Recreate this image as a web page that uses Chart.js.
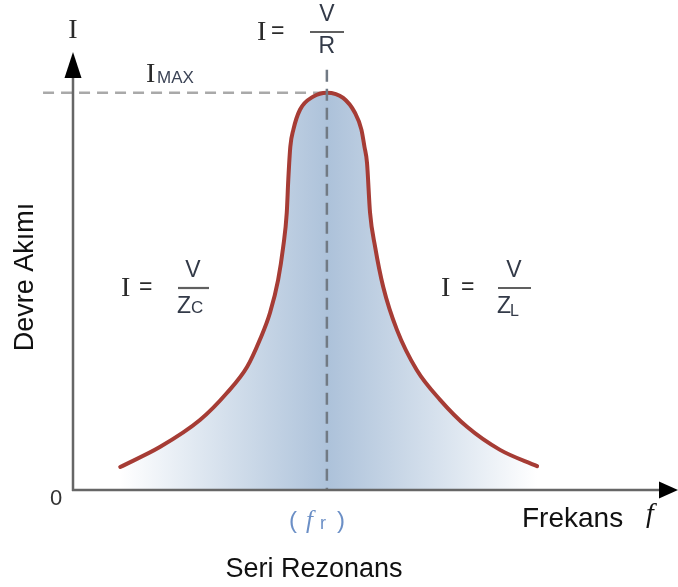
<!DOCTYPE html>
<html>
<head>
<meta charset="utf-8">
<script src="https://cdn.jsdelivr.net/npm/chart.js@4/dist/chart.umd.min.js"></script>
<style>
  html, body { margin: 0; padding: 0; background: #ffffff; }
  #wrap { width: 678px; height: 587px; position: relative; }
</style>
</head>
<body>
<div id="wrap"><canvas id="rezonans"></canvas></div>
<script>
// Frequency (resonance at 50) and circuit current (I_MAX = 100)
const frekans = [9.3, 17.1, 25.0, 30.3, 34.3, 36.8, 38.8, 40.4, 41.4, 42.1, 42.4, 42.8, 43.4, 44.7, 47.3, 50.0,
                 53.2, 55.5, 56.8, 57.4, 57.9, 58.5, 59.5, 61.1, 63.8, 67.7, 72.3, 77.6, 84.1, 91.4];
const akim    = [5.8, 10.8, 17.6, 24.4, 31.0, 37.8, 44.6, 52.9, 61.2, 69.8, 78.1, 86.4, 90.7, 95.7, 99.0, 100.0,
                 98.7, 95.0, 90.7, 86.4, 82.4, 69.8, 61.2, 51.1, 40.3, 30.2, 22.7, 15.9, 10.1, 6.0];
const FR = 50;      // resonant frequency f_r
const IMAX = 100;   // current at resonance
const X_MAX = 116;
const Y_MAX = 112;

const SANS = '"Liberation Sans", Arial, sans-serif';
const SERIF = '"Liberation Serif", "Times New Roman", serif';

function fillGradient(context) {
  const chart = context.chart;
  const { ctx, chartArea, scales } = chart;
  if (!chartArea || !scales.x) return 'rgba(170,192,218,0.8)';
  const x0 = scales.x.getPixelForValue(frekans[0]);
  const x1 = scales.x.getPixelForValue(frekans[frekans.length - 1]);
  const g = ctx.createLinearGradient(x0, 0, x1, 0);
  g.addColorStop(0, '#ffffff');
  g.addColorStop(0.2, '#dde6f0');
  g.addColorStop(0.5, '#adc2da');
  g.addColorStop(0.8, '#dde6f0');
  g.addColorStop(1, '#ffffff');
  return g;
}

function formula(ctx, iLeft, eqLeft, cx, barL, barR, barY, num, den, sub, subFont, subDx, subDy) {
  ctx.fillStyle = '#2a2a2a';
  ctx.textAlign = 'left';
  ctx.textBaseline = 'alphabetic';
  ctx.font = '28px ' + SERIF;
  ctx.fillText('I', iLeft, barY + 8);
  ctx.font = '23px ' + SANS;
  ctx.fillText('=', eqLeft, barY + 6);
  ctx.fillStyle = '#333a48';
  ctx.textAlign = 'center';
  ctx.font = '23px ' + SANS;
  ctx.fillText(num, cx, barY - 11);
  ctx.strokeStyle = '#606060';
  ctx.lineWidth = 2.2;
  ctx.setLineDash([]);
  ctx.beginPath();
  ctx.moveTo(barL, barY);
  ctx.lineTo(barR, barY);
  ctx.stroke();
  if (sub) {
    ctx.textAlign = 'left';
    ctx.font = '23px ' + SANS;
    ctx.fillText(den, barL - 1, barY + 25);
    const w = ctx.measureText(den).width;
    ctx.font = subFont;
    ctx.fillText(sub, barL - 1 + w + subDx, barY + 25 + subDy);
  } else {
    ctx.font = '23px ' + SANS;
    ctx.fillText(den, cx, barY + 21);
  }
}

const annotations = {
  id: 'annotations',
  beforeDatasetsDraw(chart) {
    const { ctx, scales: { x, y } } = chart;
    ctx.save();
    // I_MAX guide line
    ctx.strokeStyle = '#a9a9a9';
    ctx.lineWidth = 2.5;
    ctx.setLineDash([11, 7]);
    ctx.beginPath();
    ctx.moveTo(x.getPixelForValue(-5.9), y.getPixelForValue(IMAX));
    ctx.lineTo(x.getPixelForValue(FR), y.getPixelForValue(IMAX));
    ctx.stroke();
    ctx.restore();
  },
  afterDatasetsDraw(chart) {
    const { ctx, scales: { x, y } } = chart;
    const pfr = x.getPixelForValue(FR);
    ctx.save();
    // resonance guide line
    ctx.strokeStyle = '#717a84';
    ctx.lineWidth = 2.5;
    ctx.setLineDash([12, 7]);
    ctx.beginPath();
    ctx.moveTo(pfr, y.getPixelForValue(105.8));
    ctx.lineTo(pfr, y.getPixelForValue(0));
    ctx.stroke();
    ctx.restore();
  },
  afterDraw(chart) {
    const { ctx, scales: { x, y } } = chart;
    const ox = x.getPixelForValue(0);
    const oy = y.getPixelForValue(0);
    const pfr = x.getPixelForValue(FR);
    ctx.save();
    ctx.setLineDash([]);

    // axes with arrow heads
    ctx.strokeStyle = '#666666';
    ctx.lineWidth = 2.5;
    ctx.beginPath();
    ctx.moveTo(ox, oy + 1);
    ctx.lineTo(ox, 76);
    ctx.moveTo(ox - 1, oy);
    ctx.lineTo(661, oy);
    ctx.stroke();
    ctx.fillStyle = '#000000';
    ctx.beginPath();
    ctx.moveTo(ox, 52);
    ctx.lineTo(ox - 8.5, 78);
    ctx.lineTo(ox + 8.5, 78);
    ctx.closePath();
    ctx.fill();
    ctx.beginPath();
    ctx.moveTo(678, oy);
    ctx.lineTo(659, oy - 8.5);
    ctx.lineTo(659, oy + 8.5);
    ctx.closePath();
    ctx.fill();

    // axis symbols
    ctx.fillStyle = '#2a2a2a';
    ctx.textBaseline = 'alphabetic';
    ctx.textAlign = 'center';
    ctx.font = '28px ' + SERIF;
    ctx.fillText('I', ox, 38);
    ctx.font = '22px ' + SANS;
    ctx.fillStyle = '#333333';
    ctx.fillText('0', 56, 505);

    // I_MAX label
    ctx.textAlign = 'left';
    ctx.fillStyle = '#2a2a2a';
    ctx.font = '28px ' + SERIF;
    ctx.fillText('I', 146, 82);
    ctx.fillStyle = '#3c4456';
    ctx.font = '17px ' + SANS;
    ctx.fillText('MAX', 157, 83);

    // current formulas
    formula(ctx, 257, 271, pfr, 310, 344, 32, 'V', 'R', null);
    formula(ctx, 121, 139, 193, 178, 209, 288, 'V', 'Z', 'C', '17px ' + SANS, 0, 0);
    formula(ctx, 441, 461, 514, 498, 531, 288, 'V', 'Z', 'L', '16px ' + SANS, -1, 3);

    // resonant frequency marker
    ctx.fillStyle = '#6b8fc6';
    ctx.textAlign = 'left';
    ctx.font = '24px ' + SANS;
    ctx.fillText('(', 289, 528);
    ctx.font = 'italic 25px ' + SERIF;
    ctx.fillText('f', 306, 528);
    ctx.font = '18px ' + SANS;
    ctx.fillText('r', 320, 529);
    ctx.font = '24px ' + SANS;
    ctx.fillText(')', 337, 528);

    // axis titles
    ctx.fillStyle = '#111111';
    ctx.font = '28px ' + SANS;
    ctx.textAlign = 'left';
    ctx.fillText('Frekans', 522, 527);
    ctx.font = 'italic 28px ' + SERIF;
    ctx.fillText('f', 646, 522);
    ctx.font = '27px ' + SANS;
    ctx.textAlign = 'center';
    ctx.fillText('Seri Rezonans', 314, 577);
    ctx.save();
    ctx.translate(33, 277);
    ctx.rotate(-Math.PI / 2);
    ctx.fillText('Devre Akımı', 0, 0);
    ctx.restore();

    ctx.restore();
  }
};

new Chart(document.getElementById('rezonans'), {
  type: 'line',
  data: {
    datasets: [{
      data: frekans.map((f, i) => ({ x: f, y: akim[i] })),
      borderColor: '#a63c35',
      borderWidth: 4,
      borderCapStyle: 'round',
      pointRadius: 0,
      cubicInterpolationMode: 'monotone',
      fill: 'origin',
      backgroundColor: fillGradient
    }]
  },
  options: {
    responsive: true,
    maintainAspectRatio: false,
    animation: false,
    layout: { padding: { left: 73, right: 16, top: 45, bottom: 97 } },
    plugins: { legend: { display: false }, tooltip: { enabled: false } },
    scales: {
      x: { type: 'linear', min: 0, max: X_MAX, display: false },
      y: { type: 'linear', min: 0, max: Y_MAX, display: false }
    }
  },
  plugins: [annotations]
});
</script>
</body>
</html>
